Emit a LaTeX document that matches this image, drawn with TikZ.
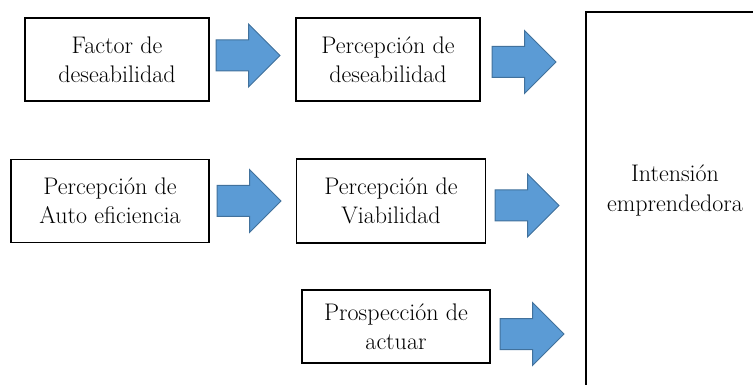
\documentclass[tikz,border=0pt]{standalone}
\usetikzlibrary{shapes.arrows}
\definecolor{arrowfill}{HTML}{5B9BD5}
\definecolor{arrowline}{HTML}{41719C}
\tikzset{
  box/.style={draw=black, line width=1.6pt, align=center, inner sep=0pt,
    font=\fontsize{24}{29}\selectfont},
  blockarrow/.style={single arrow, draw=arrowline, fill=arrowfill, line width=1pt,
    inner xsep=0pt, inner ysep=15pt, minimum height=64pt,
    single arrow head extend=16pt, single arrow head indent=0pt, anchor=tail},
  bigtext/.style={align=center, inner sep=0pt, font=\fontsize{24}{30}\selectfont}
}
\begin{document}
\begin{tikzpicture}[x=1pt,y=-1pt]
\useasboundingbox (0,0) rectangle (753,385);
\clip (0,0) rectangle (753,385);
\node[box, minimum width=184pt, minimum height=83pt] (b1) at (117,59.5) {Factor de\\deseabilidad};
\node[box, minimum width=184pt, minimum height=83pt] (b2) at (388,59.5) {Percepción de\\deseabilidad};
\node[box, minimum width=198pt, minimum height=83pt] (b3) at (110,201) {Percepción de\\Auto eficiencia};
\node[box, minimum width=189pt, minimum height=84pt] (b4) at (391,201) {Percepción de\\Viabilidad};
\node[box, minimum width=188pt, minimum height=73pt] (b5) at (396,326.5) {Prospección de\\actuar};
\node[box, anchor=north west, minimum width=300pt, minimum height=500pt] (big) at (585,11) {};
\node[bigtext] (bigt) at (675,190) {Intensión\\emprendedora};
\node[blockarrow] (a1) at (215.5,55.5) {};
\node[blockarrow] (a2) at (491.5,62) {};
\node[blockarrow] (a3) at (216.5,201) {};
\node[blockarrow] (a4) at (494.5,205.5) {};
\node[blockarrow] (a5) at (499.5,334) {};
\end{tikzpicture}
\end{document}
